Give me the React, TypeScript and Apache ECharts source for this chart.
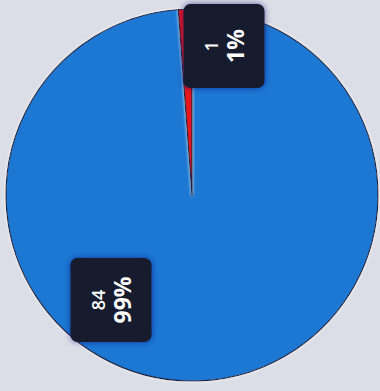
import React, { useEffect, useRef } from "react";
import * as echarts from "echarts";

const categories = ["A", "B"];
const values = [84, 1];
const colors = ["#1f78d2", "#e8161b"];

export default function App() {
  const ref = useRef<HTMLDivElement>(null);
  useEffect(() => {
    document.body.style.margin = "0";
    document.body.style.background = "#dcdee7";
    const chart = echarts.init(ref.current!, null, { renderer: "svg" });
    const total = values.reduce((a, b) => a + b, 0);
    chart.setOption({
      animation: false,
      backgroundColor: "#dcdee7",
      series: [
        {
          type: "pie",
          center: [192, 195],
          radius: 186,
          startAngle: 90,
          clockwise: true,
          data: categories.map((c, i) => ({
            name: c,
            value: values[i],
            itemStyle: { color: colors[i] },
          })),
          itemStyle: {
            borderColor: "#1b2346",
            borderWidth: 1.2,
            shadowColor: "rgba(255,255,255,0.9)",
            shadowBlur: 3,
          },
          labelLine: { show: false },
          label: {
            show: true,
            position: "inside",
            rotate: 90,
            backgroundColor: "#161d2e",
            borderRadius: 7,
            padding: [16, 18],
            width: 48,
            align: "center",
            shadowColor: "rgba(10,20,120,0.6)",
            shadowBlur: 6,
            formatter: (p: any) =>
              `{a|${p.value}}\n{b|${Math.round((p.value / total) * 100)}%}`,
            rich: {
              a: {
                color: "#ffffff",
                fontSize: 18,
                fontWeight: 600,
                fontFamily: "Open Sans",
                lineHeight: 22,
                align: "center",
              },
              b: {
                color: "#ffffff",
                fontSize: 23,
                fontWeight: "bold",
                fontFamily: "Open Sans",
                lineHeight: 27,
                align: "center",
              },
            },
          },
          labelLayout: (params: any) =>
            params.dataIndex === 0
              ? { x: 111, y: 300, align: "center", verticalAlign: "middle" }
              : { x: 224, y: 46, align: "center", verticalAlign: "middle" },
        },
      ],
    });
    return () => chart.dispose();
  }, []);
  return (
    <div
      ref={ref}
      style={{ position: "fixed", left: 0, top: 0, width: 380, height: 391 }}
    />
  );
}
